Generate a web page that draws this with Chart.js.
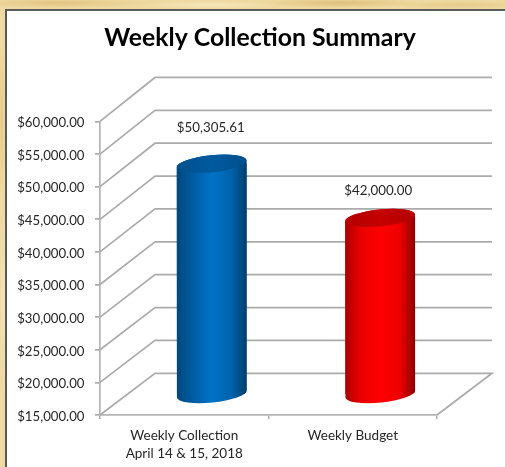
<!DOCTYPE html>
<html>
<head>
<meta charset="utf-8">
<style>
html,body{margin:0;padding:0;width:505px;height:467px;overflow:hidden}
body{position:relative;background-color:#eed9a0;
background-image:
radial-gradient(ellipse 90px 5px at 60px 3px,#e2c483,transparent),
radial-gradient(ellipse 70px 4px at 210px 5px,#f6e7bd,transparent),
radial-gradient(ellipse 80px 5px at 340px 3px,#dfc07c,transparent),
radial-gradient(ellipse 70px 4px at 460px 5px,#e6cb8c,transparent),
radial-gradient(ellipse 4px 70px at 2px 120px,#e5c98a,transparent),
radial-gradient(ellipse 4px 90px at 3px 300px,#f5e4b4,transparent);}
#panel{position:absolute;left:5px;top:9px;right:-4px;bottom:-4px;background:#fff;border:2px solid #5a5a5a;}
#wrap{position:absolute;left:0;top:0;width:505px;height:467px}
</style>
</head>
<body>
<div id="panel"></div>
<div id="wrap"><canvas id="c" width="505" height="467"></canvas></div>
<script src="https://cdn.jsdelivr.net/npm/chart.js@4"></script>
<script>
const categories = [['Weekly Collection','April 14 & 15, 2018'],'Weekly Budget'];
const seriesValues = [50305.61, 42000];
const yMin = 15000, yMax = 60000, yStep = 5000;
const chartTitle = 'Weekly Collection Summary';
const FONT = 'Lato, Carlito, sans-serif';
const DEPTH_X = 55, BAR_DEPTH_Y = 21;
const depthY = py => 41.7 + (415 - py) * 0.0078;
const CYL_RX = 35, CYL_RY = 8.5, CYL_ROT = -0.1;
const palettes = [
  {stops:['#00477c','#005a9e','#0073c8','#0062ab','#003f6e'], cap:'#005a9e', capEdge:'#004f8c'},
  {stops:['#a80000','#e80000','#ff0000','#ee0000','#8c0000'], cap:'#c40000', capEdge:'#b40000'}
];
const labelLift = [35.5, 27.5];
const labelShift = [-1, -2];
const money = v => '$' + v.toLocaleString('en-US',{minimumFractionDigits:2,maximumFractionDigits:2});

function bodyGradient(ctx, x, p){
  if(!Number.isFinite(x)) return p.stops[2];
  const g = ctx.createLinearGradient(x-CYL_RX,0,x+CYL_RX,0);
  [0,.2,.5,.78,1].forEach((o,i)=>g.addColorStop(o,p.stops[i]));
  return g;
}

const depthPlugin = {
  id:'depth',
  beforeDatasetsDraw(chart){
    const {ctx, scales:{y}, chartArea:a} = chart;
    ctx.save();
    for(let v=yMin; v<=yMax; v+=yStep){
      const py = y.getPixelForValue(v), d = depthY(py);
      ctx.beginPath();
      ctx.moveTo(a.left,py);
      ctx.lineTo(a.left+DEPTH_X,py-d);
      ctx.lineTo(a.right+DEPTH_X,py-d);
      if(v===yMin){ ctx.lineTo(a.right,py); }
      ctx.strokeStyle='#ababab'; ctx.lineWidth=1.7; ctx.lineJoin='miter';
      ctx.stroke();
    }
    ctx.restore();
    // shift the bars to mid depth and shape them as cylinders
    ctx.save();
    ctx.translate(DEPTH_X/2,-BAR_DEPTH_Y);
    const bars = chart.getDatasetMeta(0).data;
    const base = y.getPixelForValue(yMin);
    ctx.beginPath();
    bars.forEach(b=>{
      ctx.moveTo(b.x-CYL_RX,b.y);
      ctx.ellipse(b.x,b.y,CYL_RX,CYL_RY,CYL_ROT,Math.PI,2*Math.PI);
      ctx.ellipse(b.x,base,CYL_RX,CYL_RY,CYL_ROT,0,Math.PI);
      ctx.closePath();
    });
    ctx.clip();
    bars.forEach((b,i)=>{
      ctx.fillStyle=bodyGradient(ctx,b.x,palettes[i]);
      ctx.fillRect(b.x-CYL_RX-2,b.y-CYL_RY-4,CYL_RX*2+4,base-b.y+CYL_RY*2+8);
    });
  },
  afterDatasetsDraw(chart){
    const {ctx} = chart;
    ctx.restore();
    const bars = chart.getDatasetMeta(0).data;
    bars.forEach((b,i)=>{
      const cx=b.x+DEPTH_X/2, cy=b.y-BAR_DEPTH_Y, p=palettes[i];
      const g=ctx.createLinearGradient(cx-CYL_RX,0,cx+CYL_RX,0);
      g.addColorStop(0,p.capEdge); g.addColorStop(.5,p.cap); g.addColorStop(1,p.capEdge);
      ctx.beginPath();
      ctx.ellipse(cx,cy,CYL_RX,CYL_RY,CYL_ROT,0,2*Math.PI);
      ctx.fillStyle=g; ctx.fill();
      ctx.fillStyle='#262626';
      ctx.font='13.3px '+FONT;
      ctx.textAlign='center'; ctx.textBaseline='middle';
      ctx.fillText(money(seriesValues[i]),cx+labelShift[i],cy-labelLift[i]);
    });
  }
};

new Chart(document.getElementById('c'),{
  type:'bar',
  data:{labels:categories,datasets:[{
    data:seriesValues,
    barThickness:CYL_RX*2,
    borderWidth:0,
    backgroundColor:c=>bodyGradient(c.chart.ctx,c.chart.scales.x.getPixelForValue(c.dataIndex),palettes[c.dataIndex])
  }]},
  plugins:[depthPlugin],
  options:{
    responsive:false,animation:false,
    layout:{padding:{left:15}},
    plugins:{
      legend:{display:false},tooltip:{enabled:false},
      title:{display:true,text:chartTitle,color:'#000',
        font:{family:FONT,size:24.8,weight:'bold',lineHeight:1.2},
        padding:{top:23,bottom:68.7}}
    },
    scales:{
      y:{min:yMin,max:yMax,
        ticks:{stepSize:yStep,color:'#262626',font:{family:FONT,size:13.2},padding:10.5,labelOffset:1.5,
          callback:v=>money(v)},
        grid:{drawOnChartArea:false,color:'#ababab',tickLength:5,lineWidth:1.7},
        border:{color:'#b4b4b4',width:1.7},
        afterFit(s){s.width=85;}
      },
      yRightGap:{position:'right',grid:{display:false},border:{display:false},ticks:{display:false},
        afterFit(s){s.width=68;}
      },
      x:{
        ticks:{color:'#262626',font:{family:FONT,size:13.5,lineHeight:1.33},padding:8,maxRotation:0,autoSkip:false},
        grid:{drawOnChartArea:false,color:'#ababab',tickLength:4,lineWidth:1.5},
        border:{color:'#b4b4b4',width:1.7},
        afterFit(s){s.height=52;}
      }
    }
  }
});
</script>
</body>
</html>
